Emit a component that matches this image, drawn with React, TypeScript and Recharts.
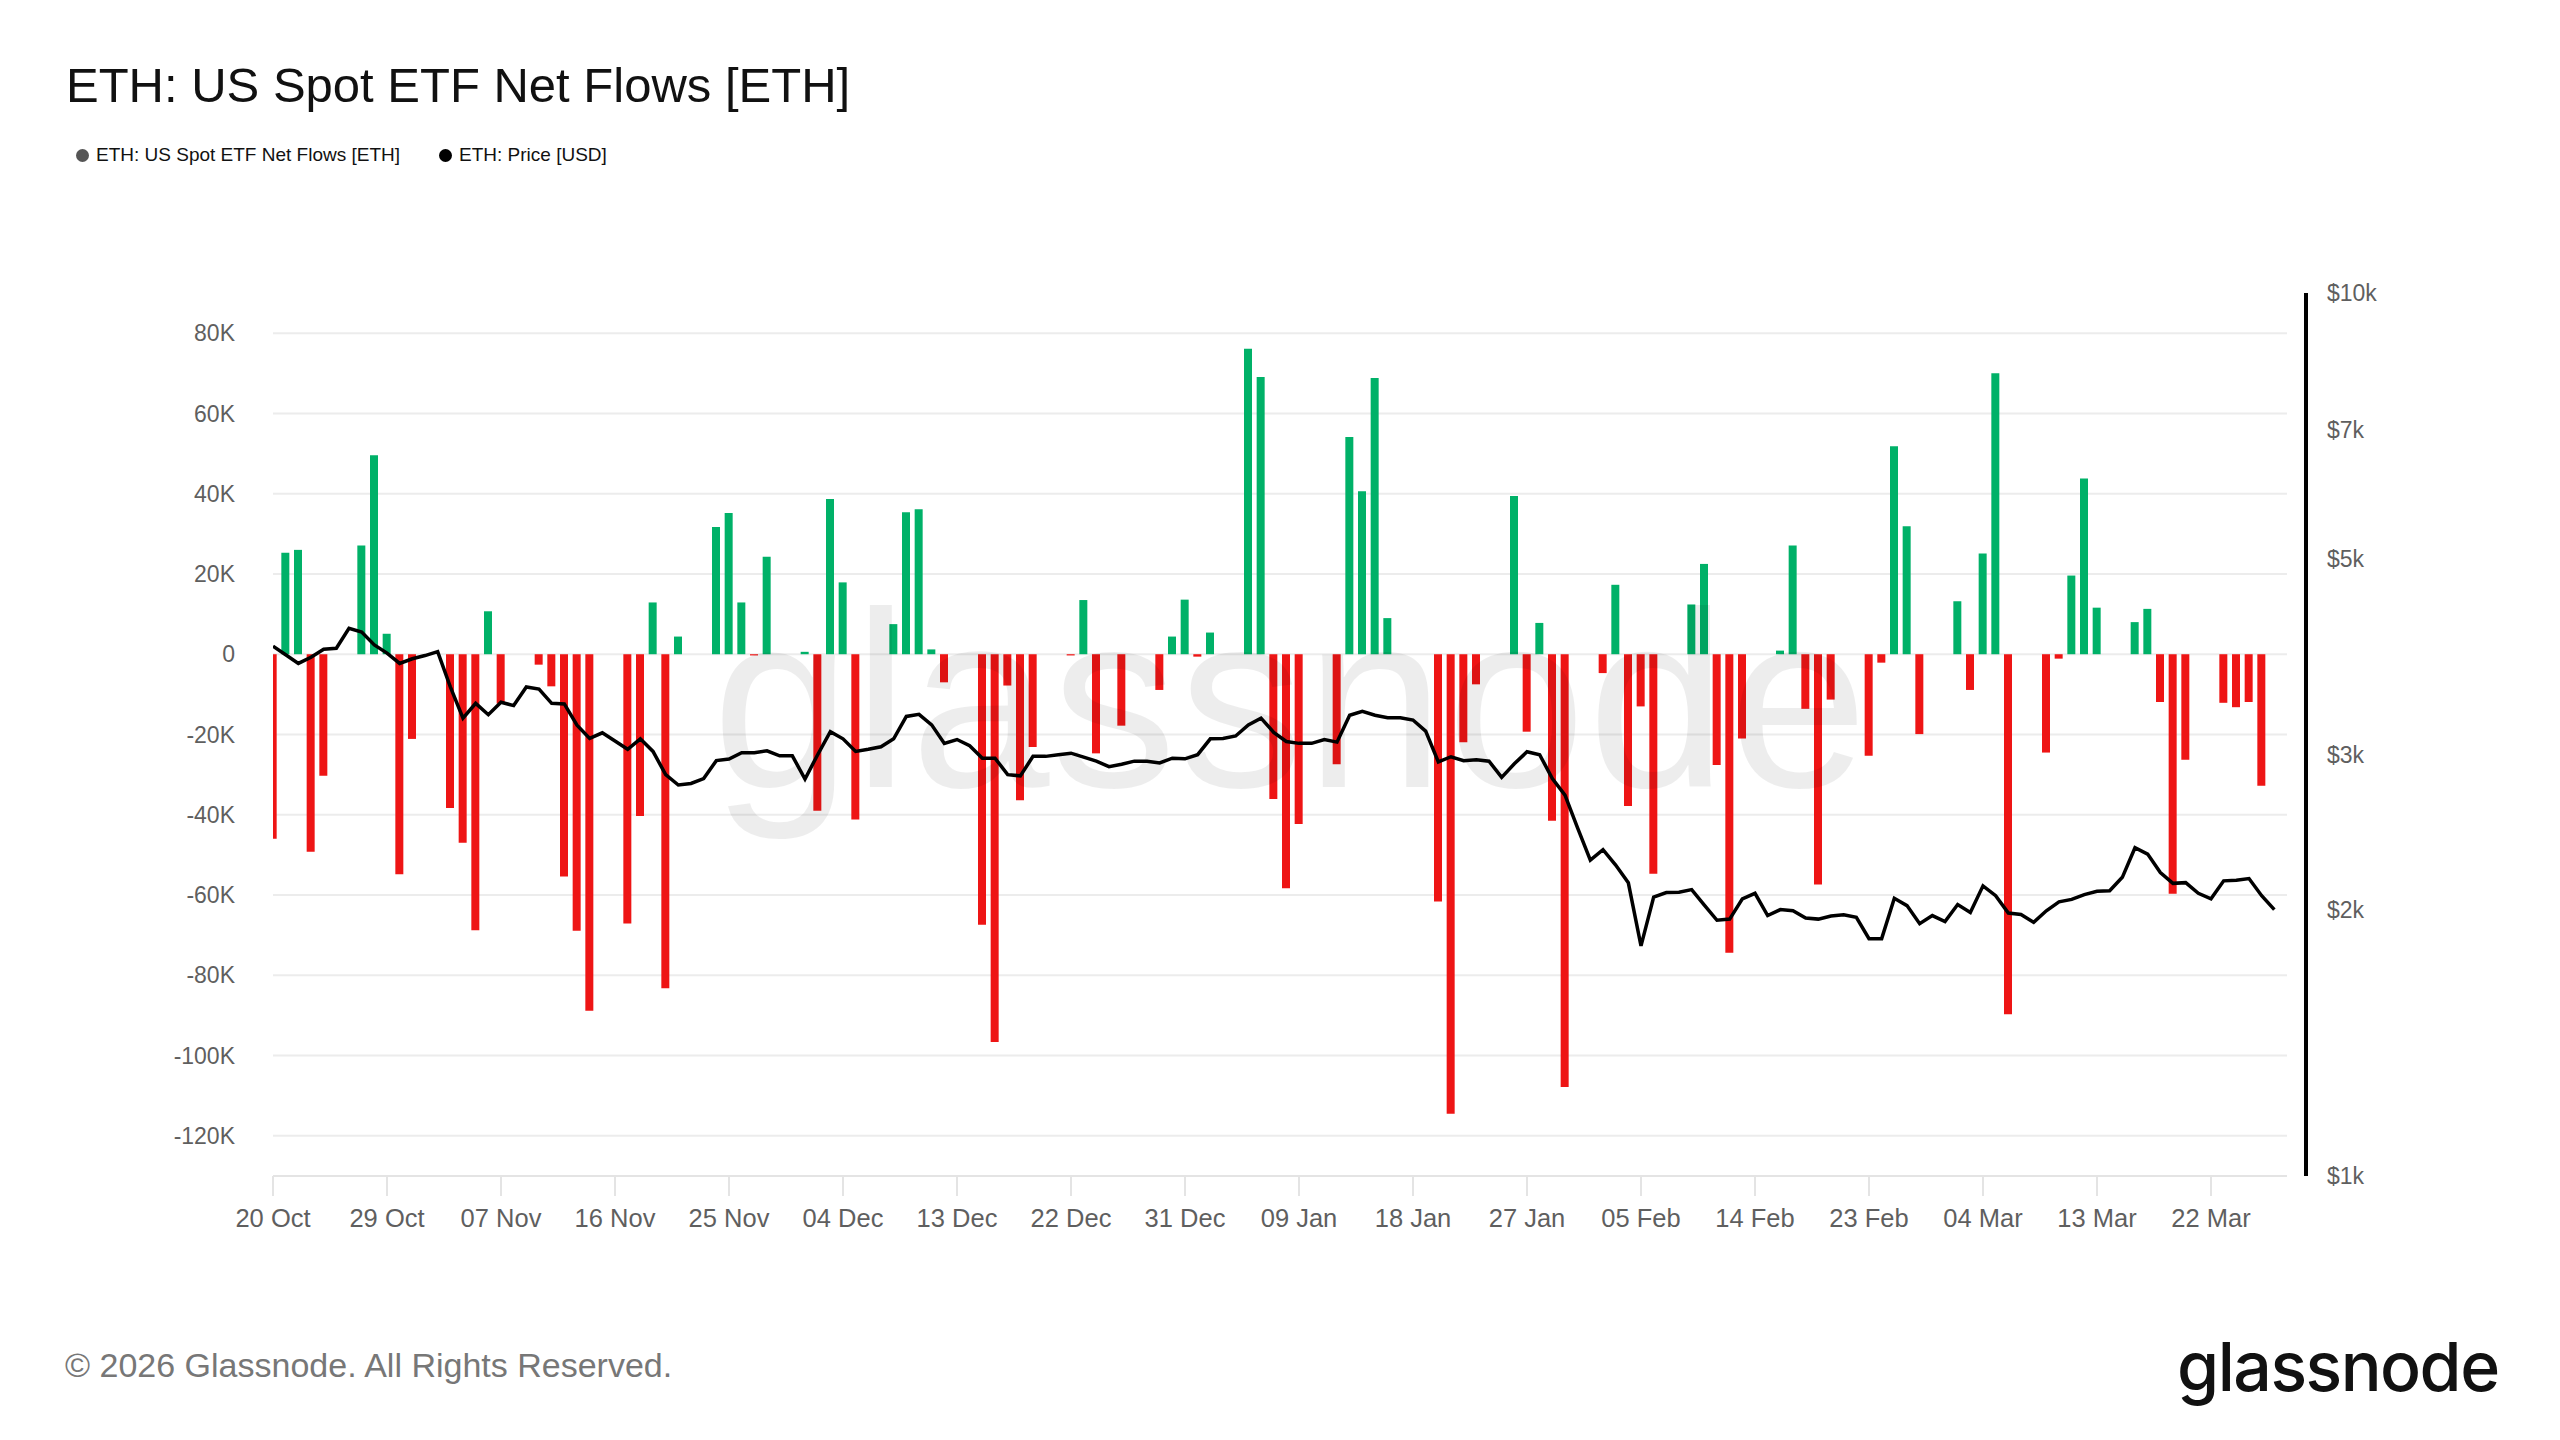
import React from 'react';
import { ComposedChart, Bar, Line, Cell, XAxis, YAxis, CartesianGrid } from 'recharts';

// daily values, index 0 = 20 Oct 2025, last = 27 Mar 2026 (null = no flow reported)
const netFlows: (number | null)[] = [
  -46000, 25300, 26000, -49200, -30300, null, null,
  27100, 49600, 5100, -54800, -21100, null, null,
  -38300, -47000, -68800, 10700, -12300, null, null,
  -2600, -8000, -55400, -68900, -88800, null, null,
  -67100, -40300, 12900, -83200, 4400, null, null,
  31700, 35200, 12900, -300, 24300, null, null,
  600, -39000, 38700, 17900, -41200, null, null,
  7500, 35400, 36100, 1200, -7000, null, null,
  -67400, -96600, -7800, -36400, -23100, null, null,
  -300, 13500, -24700, null, -17800, null, null,
  -8900, 4400, 13600, -600, 5400, null, null,
  76100, 69100, -36100, -58300, -42300, null, null,
  -27400, 54100, 40600, 68800, 9000, null, null,
  null, -61600, -114500, -21900, -7500, null, null,
  39400, -19300, 7800, -41500, -107800, null, null,
  -4700, 17300, -37800, -13000, -54700, null, null,
  12400, 22500, -27600, -74400, -21000, null, null,
  900, 27100, -13600, -57400, -11300, null, null,
  -25300, -2100, 51800, 31900, -19900, null, null,
  13200, -8900, 25100, 70000, -89700, null, null,
  -24500, -1100, 19600, 43800, 11600, null, null,
  8000, 11300, -11900, -59700, -26300, null, null,
  -12100, -13200, -11900, -32800, null,
];

const ethPrice: number[] = [
  3981, 3893, 3806, 3868, 3950, 3960, 4170,
  4130, 3995, 3910, 3806, 3853, 3885, 3925,
  3580, 3300, 3430, 3330, 3440, 3410, 3580,
  3560, 3430, 3425, 3240, 3130, 3176, 3109,
  3043, 3127, 3026, 2848, 2772, 2783, 2819,
  2954, 2966, 3016, 3016, 3031, 2991, 2991,
  2816, 3000, 3186, 3127, 3026, 3043, 3063,
  3127, 3315, 3333, 3243, 3090, 3121, 3071,
  2973, 2973, 2848, 2839, 2987, 2987, 3000,
  3012, 2981, 2950, 2908, 2926, 2950, 2950,
  2936, 2973, 2968, 3000, 3127, 3130, 3150,
  3243, 3300, 3180, 3105, 3090, 3090, 3121,
  3100, 3325, 3360, 3325, 3304, 3304, 3284,
  3190, 2944, 2984, 2954, 2960, 2950, 2828,
  2930, 3023, 3000, 2819, 2700, 2478, 2279,
  2342, 2250, 2148, 1822, 2070, 2094, 2096,
  2110, 2027, 1948, 1954, 2060, 2090, 1972,
  2003, 1997, 1960, 1954, 1970, 1976, 1963,
  1857, 1857, 2063, 2024, 1931, 1972, 1942,
  2030, 1988, 2131, 2077, 1985, 1978, 1938,
  1997, 2044, 2057, 2083, 2101, 2104, 2179,
  2354, 2315, 2206, 2145, 2149, 2090, 2060,
  2159, 2163, 2172, 2077, 2003,
];

const xTickIdx = [0, 9, 18, 27, 36, 45, 54, 63, 72, 81, 90, 99, 108, 117, 126, 135, 144, 153];
const xTickLabels = [
  '20 Oct', '29 Oct', '07 Nov', '16 Nov', '25 Nov', '04 Dec', '13 Dec', '22 Dec', '31 Dec',
  '09 Jan', '18 Jan', '27 Jan', '05 Feb', '14 Feb', '23 Feb', '04 Mar', '13 Mar', '22 Mar',
];
const flowTicks = [-120000, -100000, -80000, -60000, -40000, -20000, 0, 20000, 40000, 60000, 80000];
const priceTicks = [1000, 2000, 3000, 5000, 7000, 10000];

const data = ethPrice.map((price, t) => ({ t, flow: netFlows[t] ?? null, price }));

const FONT = "'Liberation Sans', Arial, Helvetica, sans-serif";
const GREEN = '#00b168';
const RED = '#ee1515';
const tickStyle = { fill: '#5f5f5f', fontSize: 23, fontFamily: FONT };

const fmtFlow = (v: number) => (v === 0 ? '0' : `${v / 1000}K`);
const fmtPrice = (v: number) => `$${v / 1000}k`;
const fmtDate = (v: number) => xTickLabels[xTickIdx.indexOf(v)] ?? '';

export default function App() {
  return (
    <div style={{ position: 'relative', width: 2560, height: 1440, margin: -8, background: '#fff', fontFamily: FONT, overflow: 'hidden' }}>
      <div style={{ position: 'absolute', left: 66, top: 61, fontSize: 49, lineHeight: '49px', color: '#111' }}>
        ETH: US Spot ETF Net Flows [ETH]
      </div>

      <div style={{ position: 'absolute', left: 76, top: 143, height: 24, display: 'flex', alignItems: 'center', fontSize: 19, color: '#111' }}>
        <span style={{ width: 13, height: 13, borderRadius: 7, background: '#555', marginRight: 7 }} />
        <span>ETH: US Spot ETF Net Flows [ETH]</span>
        <span style={{ width: 13, height: 13, borderRadius: 7, background: '#000', marginLeft: 39, marginRight: 7 }} />
        <span>ETH: Price [USD]</span>
      </div>

      <div style={{ position: 'absolute', left: 0, top: 0 }}>
        <ComposedChart width={2560} height={1440} data={data} margin={{ top: 293, right: 134, bottom: 204, left: 73 }}>
          <CartesianGrid yAxisId="flow" vertical={false} horizontalValues={flowTicks} stroke="#ececec" strokeWidth={2} />
          <XAxis
            dataKey="t"
            type="number"
            domain={[0, 159]}
            ticks={xTickIdx}
            interval={0}
            allowDataOverflow
            tickFormatter={fmtDate}
            tick={{ ...tickStyle, fontSize: 25.5 }}
            axisLine={{ stroke: '#e4e4e4', strokeWidth: 2 }}
            tickLine={{ stroke: '#e4e4e4', strokeWidth: 2 }}
            tickSize={20}
            tickMargin={13}
            height={60}
          />
          <YAxis
            yAxisId="flow"
            domain={[-130000, 90000]}
            ticks={flowTicks}
            interval={0}
            allowDataOverflow
            tickFormatter={fmtFlow}
            tick={tickStyle}
            axisLine={false}
            tickLine={false}
            tickSize={0}
            tickMargin={38}
            width={200}
          />
          {/* empty gap between the plot and the price axis */}
          <YAxis yAxisId="gap" orientation="right" width={19} axisLine={false} tickLine={false} tick={false} />
          <YAxis
            yAxisId="price"
            orientation="right"
            scale="log"
            domain={[1000, 10000]}
            ticks={priceTicks}
            interval={0}
            allowDataOverflow
            tickFormatter={fmtPrice}
            tick={{ ...tickStyle, textAnchor: 'start' }}
            axisLine={{ stroke: '#000', strokeWidth: 4 }}
            tickLine={false}
            tickSize={0}
            tickMargin={21}
            width={120}
          />
          <Bar yAxisId="flow" dataKey="flow" barSize={8} isAnimationActive={false}>
            {data.map((d, i) => (
              <Cell key={i} fill={(d.flow ?? 0) >= 0 ? GREEN : RED} />
            ))}
          </Bar>
          <Line
            yAxisId="price"
            dataKey="price"
            type="linear"
            stroke="#000"
            strokeWidth={3.5}
            dot={false}
            activeDot={false}
            isAnimationActive={false}
          />
        </ComposedChart>
      </div>

      <div style={{ position: 'absolute', left: 712, top: 576, fontSize: 250, lineHeight: '250px', color: 'rgba(0,0,0,0.07)', fontWeight: 500, letterSpacing: 2, pointerEvents: 'none' }}>
        glassnode
      </div>

      <div style={{ position: 'absolute', left: 65, top: 1348, fontSize: 34, lineHeight: '34px', color: '#777' }}>
        © 2026 Glassnode. All Rights Reserved.
      </div>
      <div style={{ position: 'absolute', left: 2177, top: 1332, fontSize: 68, lineHeight: '68px', color: '#111', fontFamily: 'Inter, sans-serif', fontWeight: 500, letterSpacing: -1.5 }}>
        glassnode
      </div>
    </div>
  );
}
